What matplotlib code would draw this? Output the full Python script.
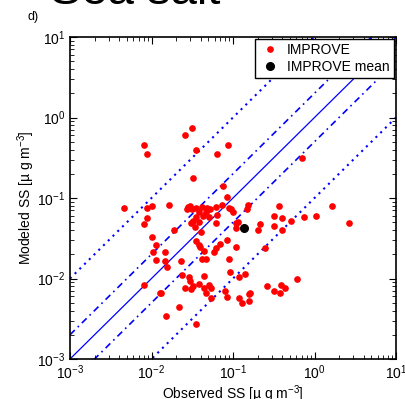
import numpy as np
import matplotlib
matplotlib.use('Agg')
import matplotlib.pyplot as plt

plt.rcParams['font.family'] = ['Liberation Sans', 'DejaVu Sans']
plt.rcParams['mathtext.default'] = 'regular'
plt.rcParams['font.size'] = 10

# observed / modeled sea salt [ug m-3]
obs = [0.0080, 0.0089, 0.0255, 0.0317, 0.0355, 0.0641, 0.0861, 0.0326, 0.0760, 0.697,
       0.0046, 0.00875, 0.0102, 0.0165, 0.0088, 0.0081, 0.0187, 0.0281, 0.0296, 0.0314,
       0.0270, 0.0355, 0.0413, 0.0387, 0.0467, 0.0355, 0.0425, 0.0504, 0.0326, 0.0303,
       0.0379, 0.0344, 0.0402, 0.0484, 0.0522, 0.0618, 0.0893, 0.0944, 0.0991, 0.0641,
       0.0851, 0.0733, 0.151, 0.149, 0.370, 1.63, 0.0614, 0.108, 0.116, 0.108,
       0.216, 0.203, 0.316, 0.403, 0.511, 0.316, 0.396, 0.736, 1.04, 2.65,
       0.0100, 0.0114, 0.0105, 0.0147, 0.0112, 0.0148, 0.0157, 0.0233, 0.0349, 0.0379,
       0.0397, 0.0445, 0.0413, 0.0467, 0.0837, 0.0687, 0.0614, 0.0585, 0.109, 0.245,
       0.0902, 0.0081, 0.0126, 0.0132, 0.0217, 0.0151, 0.0349, 0.0237, 0.0291, 0.0294,
       0.0258, 0.0326, 0.0303, 0.0383, 0.0441, 0.0512, 0.0532, 0.0462, 0.0537, 0.0912,
       0.0435, 0.140, 0.120, 0.618, 0.261, 0.390, 0.435, 0.318, 0.378, 0.162,
       0.158, 0.158, 0.119, 0.128, 0.0851, 0.0809]
mod = [0.452, 0.349, 0.601, 0.746, 0.398, 0.349, 0.452, 0.177, 0.142, 0.311,
       0.0762, 0.0741, 0.0789, 0.0826, 0.0565, 0.0471, 0.0404, 0.0780, 0.0802, 0.0736,
       0.0736, 0.0758, 0.0773, 0.0676, 0.0676, 0.0586, 0.0603, 0.0586, 0.0522, 0.0493,
       0.0499, 0.0440, 0.0381, 0.0758, 0.0730, 0.0766, 0.0745, 0.0730, 0.0676, 0.0610,
       0.103, 0.0818, 0.0818, 0.0730, 0.0796, 0.0789, 0.0493, 0.0489, 0.0500, 0.0421,
       0.0480, 0.0400, 0.0597, 0.0560, 0.0522, 0.0453, 0.0397, 0.0586, 0.0592, 0.0489,
       0.0325, 0.0258, 0.0213, 0.0213, 0.0170, 0.0165, 0.0137, 0.0165, 0.0292, 0.0258,
       0.0244, 0.0221, 0.0177, 0.0176, 0.0301, 0.0266, 0.0241, 0.0213, 0.0246, 0.0241,
       0.0175, 0.00826, 0.0067, 0.00655, 0.00445, 0.00339, 0.00275, 0.0110, 0.0104, 0.00923,
       0.00762, 0.00807, 0.00734, 0.00847, 0.00762, 0.00824, 0.00762, 0.00667, 0.00568, 0.0120,
       0.0107, 0.0113, 0.0104, 0.00994, 0.00807, 0.00824, 0.00762, 0.00700, 0.00667, 0.00661,
       0.00638, 0.00530, 0.00568, 0.00500, 0.00594, 0.00700]
obs_mean = [0.135]
mod_mean = [0.0428]

# reference lines: 1:1, 2:1 / 1:2, 10:1 / 1:10
ref = np.array([1e-3, 1e1])
fac2 = [2.0, 0.5]
fac10 = [10.0, 0.1]

fig = plt.figure(figsize=(4.05, 3.99), dpi=100)
ax = fig.add_axes([70/405, 1-359/399, 326/405, 322/399])

ax.plot(ref, ref, color='b', lw=0.9, zorder=1)
for f in fac2:
    ax.plot(ref, ref*f, color='b', lw=1.2, ls=(0, (4, 2.5, 1, 2.5)), zorder=1)
for f in fac10:
    ax.plot(ref, ref*f, color='b', lw=1.5, ls=(0, (1, 2.2)), zorder=1)

ax.plot(obs, mod, 'o', color='r', ms=3.8, mec='r', ls='none', label='IMPROVE', zorder=3)
ax.plot(obs_mean, mod_mean, 'o', color='k', ms=5.5, ls='none', label='IMPROVE mean', zorder=4)

ax.set_xscale('log')
ax.set_yscale('log')
ax.set_xlim(1e-3, 1e1)
ax.set_ylim(1e-3, 1e1)
ax.tick_params(which='both', direction='in', top=True, right=True, labelsize=10)
ax.tick_params(which='major', length=5, width=0.8)
ax.tick_params(which='minor', length=3, width=0.6)
for s in ax.spines.values():
    s.set_linewidth(1.2)

ax.set_xlabel('Observed SS [\u00b5 g m$^{-3}$]', fontsize=10, labelpad=1)
ax.set_ylabel('Modeled SS [\u00b5 g m$^{-3}$]', fontsize=10)
ax.yaxis.set_label_coords(-0.10, 0.5)

leg = ax.legend(loc='upper right', fontsize=10, handletextpad=0.4, borderpad=0.3,
                labelspacing=0.2, handlelength=1.6, fancybox=False, framealpha=1,
                borderaxespad=0.15)
leg.get_frame().set_edgecolor('k')
leg.get_frame().set_linewidth(1.0)

fig.text(27/405, 1-17/399, 'd)', fontsize=9, ha='left', va='center')
fig.text(50/405, 1-4/399, 'Sea salt', fontsize=34, ha='left', va='baseline')

fig.savefig('out.png', dpi=100)
